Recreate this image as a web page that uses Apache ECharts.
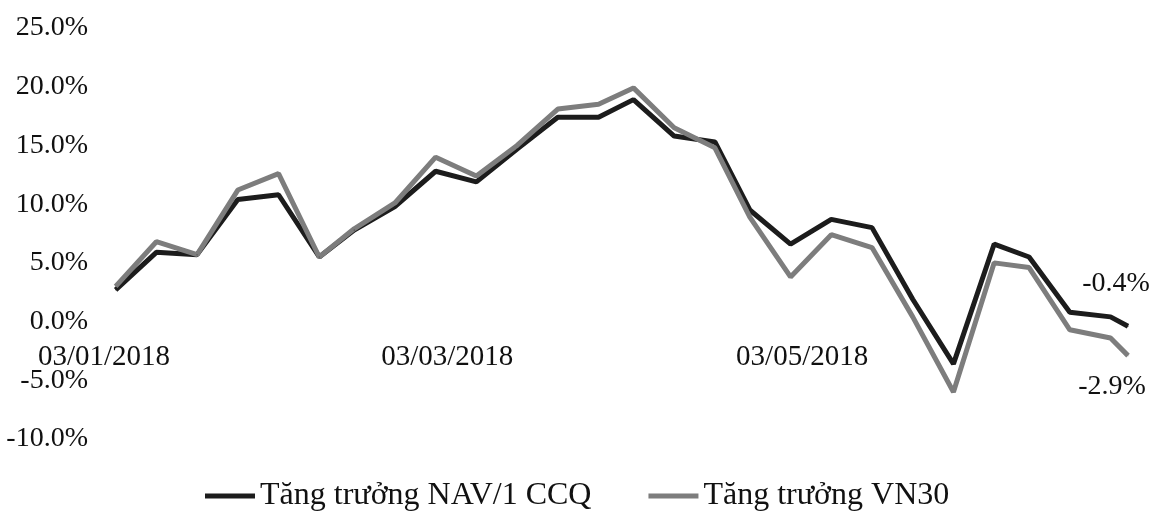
<!DOCTYPE html>
<html>
<head>
<meta charset="utf-8">
<title>NAV vs VN30</title>
<script src="https://cdn.jsdelivr.net/npm/echarts@6/dist/echarts.min.js"></script>
<style>
  html, body { margin: 0; padding: 0; background: #fff; }
  #chart { width: 1154px; height: 511px; }
</style>
</head>
<body>
<div id="chart"></div>
<script>
  // ngày của từng điểm (dd/mm/yyyy)
  const pointDates = [
    '05/01/2018', '12/01/2018', '19/01/2018', '26/01/2018', '02/02/2018', '09/02/2018',
    '15/02/2018', '22/02/2018', '01/03/2018', '08/03/2018', '15/03/2018', '22/03/2018',
    '29/03/2018', '04/04/2018', '11/04/2018', '18/04/2018', '24/04/2018', '01/05/2018',
    '08/05/2018', '15/05/2018', '22/05/2018', '29/05/2018', '05/06/2018', '11/06/2018',
    '18/06/2018', '25/06/2018', '28/06/2018'
  ]
  // Tăng trưởng NAV/1 CCQ (%)
  const navGrowth = [
    2.7, 5.9, 5.7, 10.4, 10.8, 5.5, 7.8, 9.8, 12.8, 11.9, 14.7, 17.4, 17.4, 18.9,
    15.8, 15.3, 9.5, 6.6, 8.7, 8.0, 1.9, -3.6, 6.6, 5.5, 0.8, 0.4, -0.4
  ]
  // Tăng trưởng VN30 (%)
  const vn30Growth = [
    3.0, 6.8, 5.7, 11.2, 12.6, 5.5, 7.9, 10.1, 14.0, 12.4, 15.0, 18.1, 18.5, 19.9,
    16.5, 14.8, 8.9, 3.8, 7.4, 6.3, 0.4, -6.0, 5.0, 4.6, -0.7, -1.4, -2.9
  ]
  const axisStart = '03/01/2018'
  const axisEnd = '28/06/2018'
  const tickDates = ['03/01/2018', '03/03/2018', '03/05/2018']
  const seriesNames = ['Tăng trưởng NAV/1 CCQ', 'Tăng trưởng VN30']

  const fmt = d => {
    const dd = String(d.getUTCDate()).padStart(2, '0')
    const mm = String(d.getUTCMonth() + 1).padStart(2, '0')
    return dd + '/' + mm + '/' + d.getUTCFullYear()
  }
  const parse = s => {
    const p = s.split('/')
    return new Date(Date.UTC(+p[2], +p[1] - 1, +p[0]))
  }
  // trục ngày liên tục
  let days = []
  for (let t = parse(axisStart); t <= parse(axisEnd); t = new Date(t.getTime() + 86400000)) {
    days.push(fmt(t))
  }

  const font = '"Liberation Serif", "Times New Roman", serif'

  function buildData(values, lastLabel) {
    return values.map((v, i) => {
      let item = { value: [days.indexOf(pointDates[i]), v] }
      if (i === values.length - 1) {
        item.label = lastLabel
      }
      return item
    })
  }

  let chart = echarts.init(document.getElementById('chart'))
  chart.setOption({
    animation: false,
    textStyle: { fontFamily: font },
    grid: { left: 104, right: 26, top: 28, bottom: 72 },
    legend: {
      left: 200,
      top: 475,
      itemWidth: 50,
      itemHeight: 5,
      itemGap: 57,
      icon: 'rect',
      textStyle: { fontFamily: font, fontSize: 32, color: '#111' },
      data: seriesNames
    },
    xAxis: {
      type: 'category',
      data: days,
      boundaryGap: false,
      // nhãn ngày nằm ngay dưới mức 0%
      offset: -117,
      axisLine: { show: false },
      axisTick: { show: false },
      splitLine: { show: false },
      axisLabel: {
        interval: (idx, val) => tickDates.indexOf(val) >= 0,
        margin: 21,
        fontFamily: font,
        fontSize: 29,
        color: '#111'
      }
    },
    yAxis: {
      type: 'value',
      min: -10,
      max: 25,
      interval: 5,
      axisLine: { show: false },
      axisTick: { show: false },
      splitLine: { show: false },
      axisLabel: {
        margin: 16,
        fontFamily: font,
        fontSize: 28,
        color: '#111',
        formatter: v => v.toFixed(1) + '%'
      }
    },
    series: [
      {
        name: seriesNames[0],
        type: 'line',
        symbol: 'circle',
        symbolSize: 1,
        showSymbol: true,
        color: '#1c1c1c',
        lineStyle: { width: 5, color: '#1c1c1c' },
        data: buildData(navGrowth, {
          show: true, position: 'top', offset: [-12, -23],
          formatter: p => p.value[1].toFixed(1) + '%',
          fontFamily: font, fontSize: 28, color: '#111'
        })
      },
      {
        name: seriesNames[1],
        type: 'line',
        symbol: 'circle',
        symbolSize: 1,
        showSymbol: true,
        color: '#7d7d7d',
        lineStyle: { width: 5, color: '#7d7d7d' },
        data: buildData(vn30Growth, {
          show: true, position: 'bottom', offset: [-16, 12],
          formatter: p => p.value[1].toFixed(1) + '%',
          fontFamily: font, fontSize: 28, color: '#111'
        })
      }
    ]
  })
</script>
</body>
</html>
